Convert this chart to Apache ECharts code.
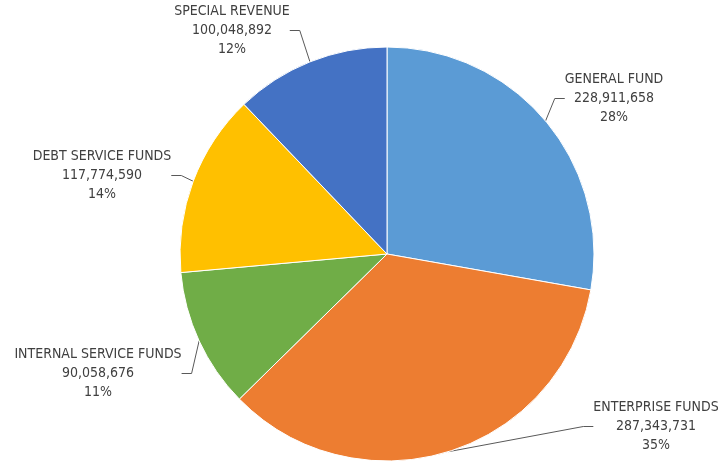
<!DOCTYPE html>
<html>
<head>
<meta charset="utf-8">
<script src="https://cdn.jsdelivr.net/npm/echarts@6/dist/echarts.min.js"></script>
<style>
  html, body { margin: 0; padding: 0; background: #fff; }
  #chart { width: 725px; height: 461px; }
</style>
</head>
<body>
<div id="chart"></div>
<script>
// Fund categories and their amounts
const funds = ['GENERAL FUND', 'ENTERPRISE FUNDS', 'INTERNAL SERVICE FUNDS', 'DEBT SERVICE FUNDS', 'SPECIAL REVENUE'];
const amounts = [228911658, 287343731, 90058676, 117774590, 100048892];
const colors = ['#5B9BD5', '#ED7D31', '#70AD47', '#FFC000', '#4472C4'];

// Where each label block sits (top-centre of the text block)
const labelSpots = [
  [614, 70],
  [656, 398],
  [98, 345],
  [102, 147],
  [232, 2]
];

const chart = echarts.init(document.getElementById('chart'));
chart.setOption({
  animation: false,
  series: [{
    type: 'pie',
    center: [387, 254],
    radius: 207,
    startAngle: 90,
    clockwise: true,
    data: funds.map((n, i) => ({ name: n, value: amounts[i], itemStyle: { color: colors[i] } })),
    itemStyle: { borderColor: '#fff', borderWidth: 1 },
    label: {
      show: true,
      position: 'outside',
      overflow: 'none',
      color: '#404040',
      fontFamily: 'DejaVu Sans Condensed, DejaVu Sans, sans-serif',
      fontSize: 14,
      lineHeight: 19,
      align: 'center',
      formatter: p => p.name + '\n' + p.value.toLocaleString('en-US') + '\n' + Math.round(p.percent) + '%'
    },
    labelLine: {
      show: true,
      length: 10,
      length2: 10,
      lineStyle: { color: '#595959', width: 1 }
    },
    labelLayout: p => ({
      x: labelSpots[p.dataIndex][0],
      y: labelSpots[p.dataIndex][1],
      align: 'center',
      verticalAlign: 'top'
    })
  }]
});
</script>
</body>
</html>
